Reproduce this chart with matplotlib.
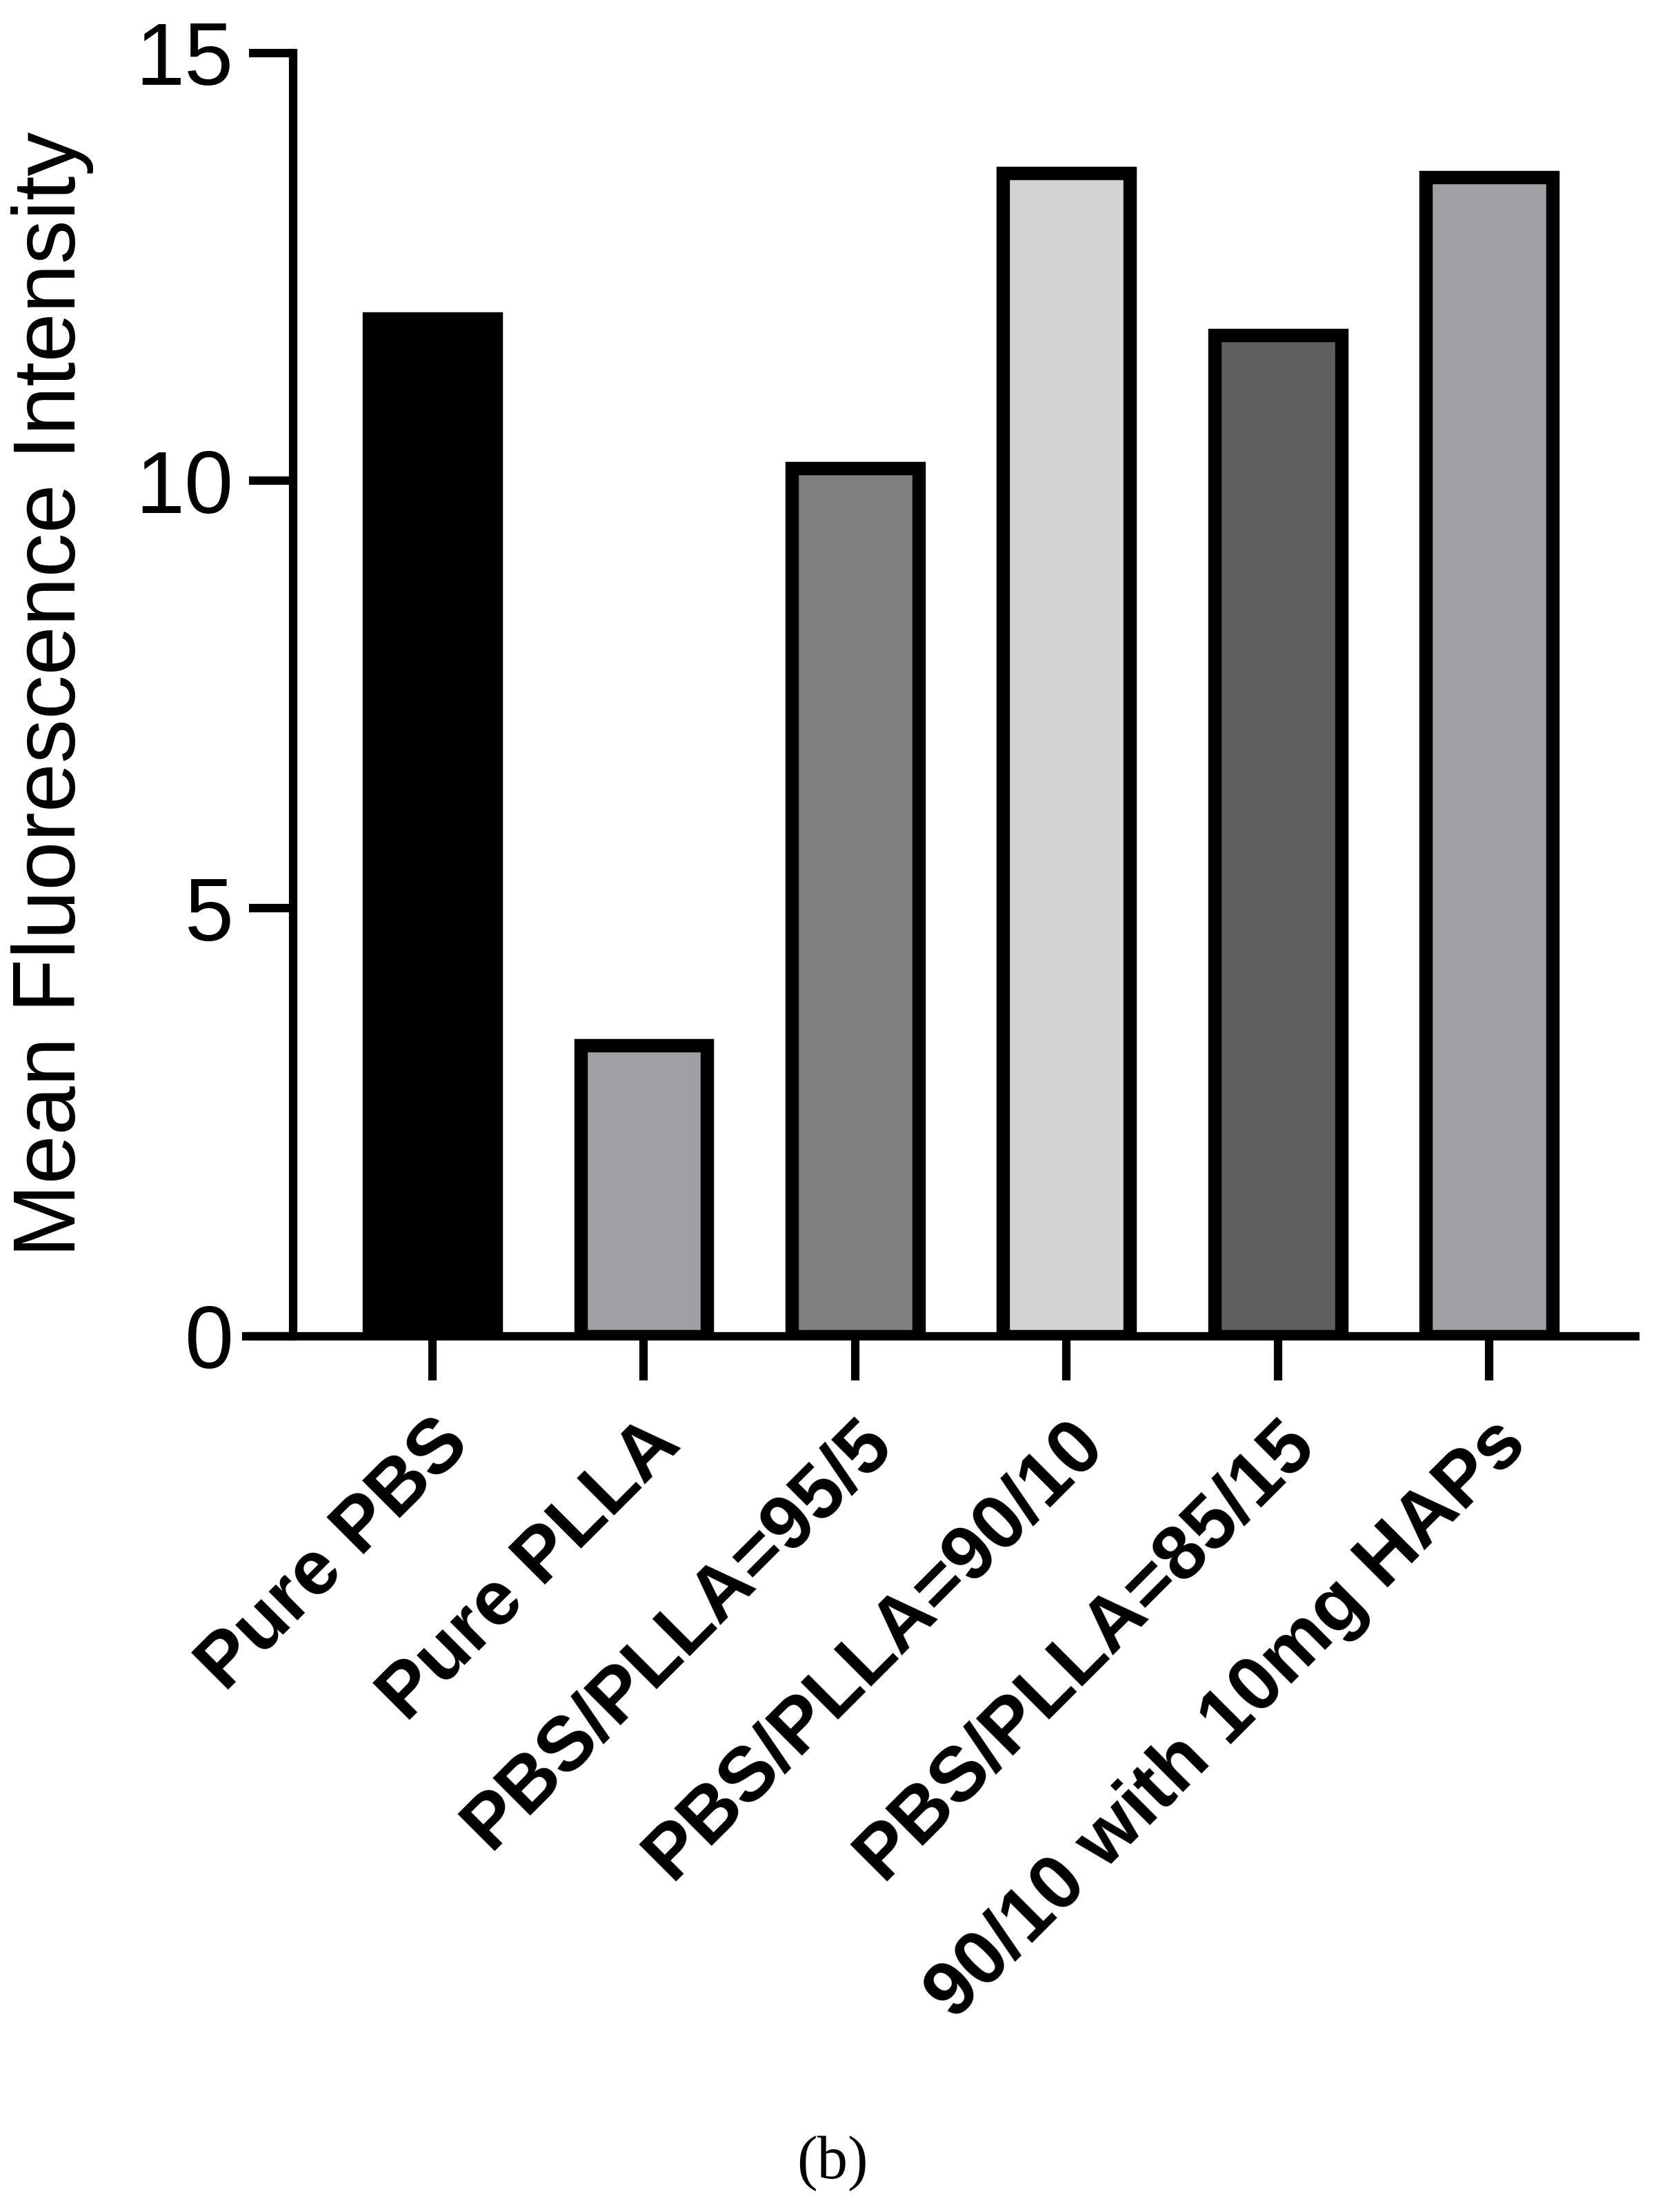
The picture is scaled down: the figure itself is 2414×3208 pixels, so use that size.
import matplotlib
matplotlib.use("Agg")
import matplotlib.pyplot as plt

categories = ["Pure PBS", "Pure PLLA", "PBS/PLLA=95/5", "PBS/PLLA=90/10",
              "PBS/PLLA=85/15", "90/10 with 10mg HAPs"]
values = [11.9, 3.4, 10.15, 13.6, 11.7, 13.55]
colors = ["#000000", "#a0a0a4", "#808080", "#d4d4d4", "#606060", "#a0a0a4"]
yticks = [0, 5, 10, 15]

plt.rcParams['font.family'] = ['Liberation Sans', 'DejaVu Sans']
fig = plt.figure(figsize=(12.07, 16.04), dpi=200)
ax = fig.add_axes([0.176, 0.396, 0.806, 0.58])
x = list(range(len(categories)))
ax.bar(x, values, width=0.6, color=colors, edgecolor="black", linewidth=7, zorder=2)
ax.set_xlim(-0.66, 5.69)
ax.set_ylim(0, 15)
ax.set_yticks(yticks)
ax.set_xticks(x)
ax.set_xticklabels(categories, rotation=45, ha="right", rotation_mode="anchor",
                   fontsize=40, fontweight="bold")
for lab in ax.get_yticklabels():
    lab.set_fontsize(46)
ax.tick_params(axis="both", width=4.4, length=23, direction="out", pad=8)
ax.tick_params(axis="x", pad=14)
for s in ["top", "right"]:
    ax.spines[s].set_visible(False)
for s in ["left", "bottom"]:
    ax.spines[s].set_linewidth(4.4)
ax.spines["bottom"].set_bounds(-0.88, 5.69)
ax.spines["bottom"].set_clip_on(False)
ax.set_ylabel("Mean Fluorescence Intensity", fontsize=46, labelpad=22)
fig.text(0.5, 0.022, "(b)", fontsize=32, family="Liberation Serif", ha="center", va="center")
fig.savefig("out.png", dpi=200)
